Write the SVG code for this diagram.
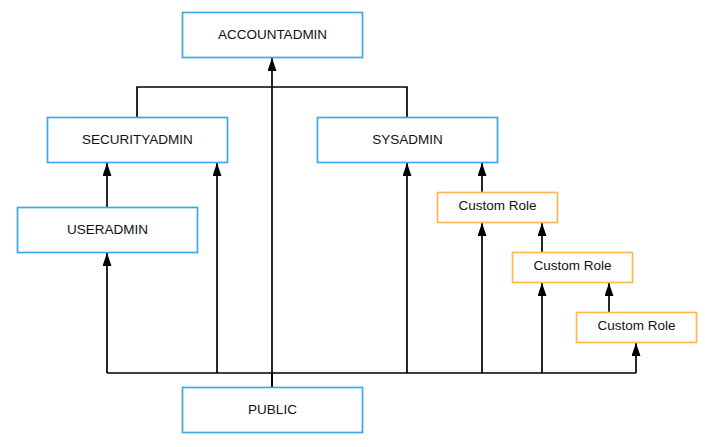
<svg xmlns="http://www.w3.org/2000/svg" width="705" height="447" viewBox="0 0 705 447">
<style>
.sys{fill:#fff;stroke:#3ea8e5;stroke-width:1.7}
.cus{fill:#fff;stroke:#ffb84d;stroke-width:1.7}
.lbl{font-family:"Liberation Sans",Arial,sans-serif;font-size:13.5px;fill:#111;text-anchor:middle;dominant-baseline:central}
.ln{fill:none;stroke:#000;stroke-width:1.7}
.ar{fill:none;stroke:#000;stroke-width:1.7;marker-end:url(#ah)}
</style>
<defs>
<marker id="ah" markerUnits="userSpaceOnUse" markerWidth="13" markerHeight="9" refX="13" refY="4.5" orient="auto" viewBox="0 0 13 9">
<path d="M0,0 L13,4.5 L0,9 Z" fill="#000"/>
</marker>
</defs>
<rect width="705" height="447" fill="#fff"/>
<g id="connectors">
<path class="ar" d="M272 387 V58"/>
<path class="ln" d="M137 117 V87 H407 V117"/>
<path class="ar" d="M107 207 V163"/>
<path class="ln" d="M272 387 V373 H636"/>
<path class="ln" d="M272 373 H107"/>
<path class="ar" d="M107 373 V253"/>
<path class="ar" d="M217 373 V163"/>
<path class="ar" d="M407 373 V163"/>
<path class="ar" d="M482 373 V223"/>
<path class="ar" d="M542 373 V283"/>
<path class="ar" d="M636 373 V343"/>
<path class="ar" d="M482 192 V163"/>
<path class="ar" d="M542 252 V223"/>
<path class="ar" d="M609 312 V283"/>
</g>
<g id="accountadmin"><rect class="sys" x="182.5" y="12.5" width="180" height="45"/><text class="lbl" x="272.5" y="34">ACCOUNTADMIN</text></g>
<g id="securityadmin"><rect class="sys" x="47.5" y="117.5" width="180" height="45"/><text class="lbl" x="137.5" y="139">SECURITYADMIN</text></g>
<g id="sysadmin"><rect class="sys" x="317.5" y="117.5" width="180" height="45"/><text class="lbl" x="407.5" y="139">SYSADMIN</text></g>
<g id="useradmin"><rect class="sys" x="17.5" y="207.5" width="180" height="45"/><text class="lbl" x="107.5" y="229">USERADMIN</text></g>
<g id="custom1"><rect class="cus" x="437.5" y="192.5" width="120" height="30"/><text class="lbl" x="497.5" y="205.5">Custom Role</text></g>
<g id="custom2"><rect class="cus" x="512.5" y="252.5" width="120" height="30"/><text class="lbl" x="572.5" y="265.5">Custom Role</text></g>
<g id="custom3"><rect class="cus" x="576.5" y="312.5" width="120" height="30"/><text class="lbl" x="636.5" y="325.5">Custom Role</text></g>
<g id="public"><rect class="sys" x="182.5" y="387.5" width="180" height="45"/><text class="lbl" x="272.5" y="409">PUBLIC</text></g>
</svg>
